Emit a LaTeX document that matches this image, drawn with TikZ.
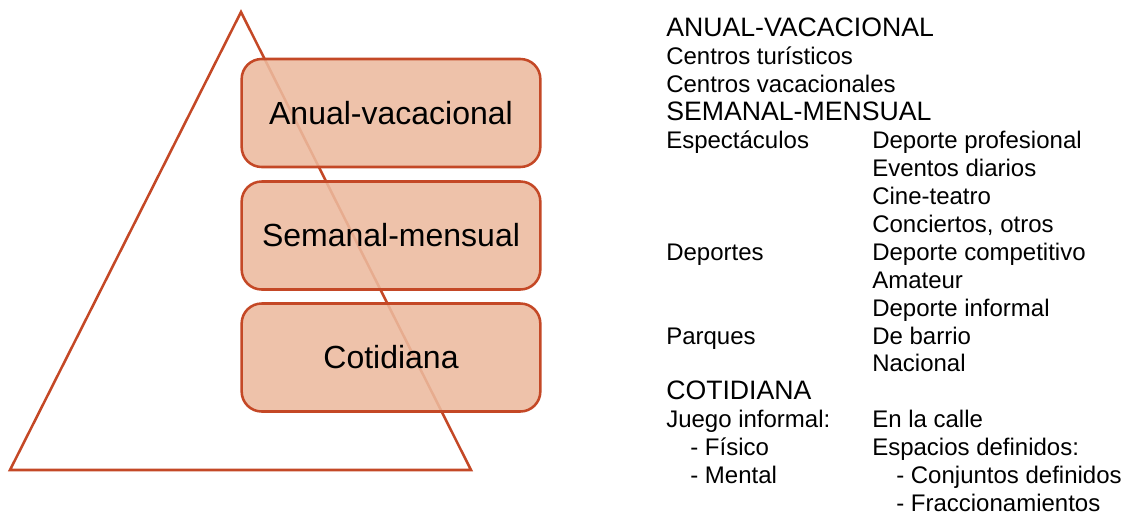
\documentclass[tikz,border=0pt]{standalone}
\usepackage{fontspec}
\setmainfont{Liberation Sans}
\definecolor{borde}{RGB}{196,72,38}
\definecolor{relleno}{RGB}{236,186,158}
\tikzset{
  nivel/.style={draw=borde, line width=1.9pt, fill=relleno, fill opacity=0.88, text opacity=1,
    rounded corners=15pt, minimum width=224pt, minimum height=81pt, inner sep=0pt,
    font=\fontsize{24}{28}\selectfont},
  titulo/.style={anchor=base west, inner sep=0pt, font=\fontsize{20}{24}\selectfont},
  renglon/.style={anchor=base west, inner sep=0pt, font=\fontsize{18}{22}\selectfont}
}
\begin{document}
\begin{tikzpicture}[x=0.75pt, y=-0.75pt]
			\useasboundingbox (0,0) rectangle (1128,515);
			% piramide
			\coordinate (cima) at (241,12);
			\coordinate (baseizq) at (10,470);
			\coordinate (baseder) at (471,470);
			\draw[borde, line width=1.9pt] (baseizq)--(cima)--(baseder)--cycle;
			% niveles
			\node[nivel] (anual) at (391,113) {Anual-vacacional};
			\node[nivel] (semanal) at (391,235.5) {Semanal-mensual};
			\node[nivel] (cotidiana) at (391,357.5) {Cotidiana};
			% lista
			\node[titulo] (tAnual) at (666,36) {ANUAL-VACACIONAL};
			\node[renglon] (turisticos) at (666,64) {Centros turísticos};
			\node[renglon] (vacacionales) at (666,92) {Centros vacacionales};
			\node[titulo] (tSemanal) at (666,120) {SEMANAL-MENSUAL};
			\node[renglon] (espectaculos) at (666,148.5) {Espectáculos};
			\node[renglon] (profesional) at (872,148.5) {Deporte profesional};
			\node[renglon] (eventos) at (872,176.5) {Eventos diarios};
			\node[renglon] (cine) at (872,204) {Cine-teatro};
			\node[renglon] (conciertos) at (872,232) {Conciertos, otros};
			\node[renglon] (deportes) at (666,260) {Deportes};
			\node[renglon] (competitivo) at (872,260) {Deporte competitivo};
			\node[renglon] (amateur) at (872,288) {Amateur};
			\node[renglon] (informal) at (872,316) {Deporte informal};
			\node[renglon] (parques) at (666,344) {Parques};
			\node[renglon] (barrio) at (872,344) {De barrio};
			\node[renglon] (nacional) at (872,371.5) {Nacional};
			\node[titulo] (tCotidiana) at (666,399.5) {COTIDIANA};
			\node[renglon] (juego) at (666,427.5) {Juego informal:};
			\node[renglon] (calle) at (872,427.5) {En la calle};
			\node[renglon] (fisico) at (690,455.5) {- Físico};
			\node[renglon] (espacios) at (872,455.5) {Espacios definidos:};
			\node[renglon] (mental) at (690,483) {- Mental};
			\node[renglon] (conjuntos) at (896,483) {- Conjuntos definidos};
			\node[renglon] (fracc) at (896,511) {- Fraccionamientos};
\end{tikzpicture}
\end{document}
